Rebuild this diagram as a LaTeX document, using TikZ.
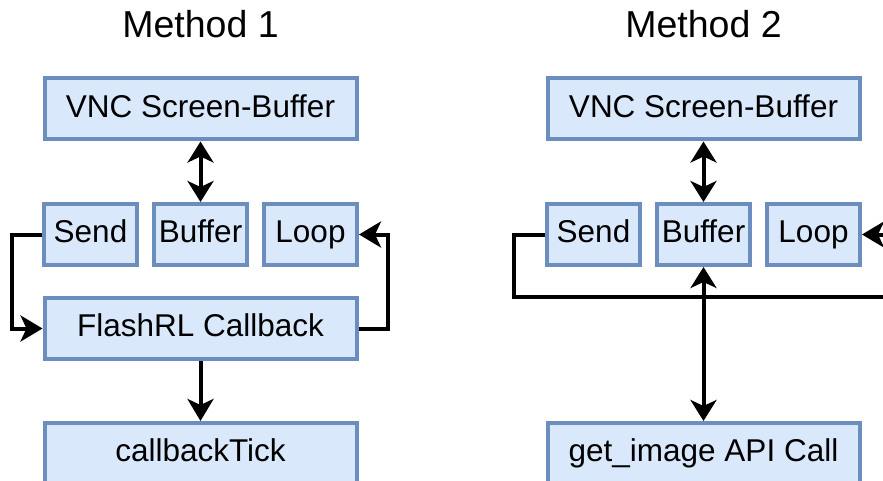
\documentclass[tikz,border=0pt]{standalone}
\usepackage{fontspec}
\setmainfont{Liberation Sans}
\usetikzlibrary{arrows.meta}
\definecolor{boxfill}{HTML}{DAE8FC}
\definecolor{boxline}{HTML}{6C8EBF}
\tikzset{
  box/.style={draw=boxline, fill=boxfill, line width=4pt, inner sep=0pt,
    font=\fontsize{31.5pt}{37pt}\selectfont, text height=22.5pt, text depth=6pt},
  bigbox/.style={box, minimum width=312pt, minimum height=61pt},
  smallbox/.style={box, minimum width=93pt, minimum height=61pt},
  title/.style={font=\fontsize{37.5pt}{44pt}\selectfont, anchor=base, inner sep=0pt},
  conn/.style={line width=4pt},
  tipa/.style={},
  arr/.style={conn, -{Stealth[length=22pt,width=26pt,inset=6pt]}},
  darr/.style={conn, {Stealth[length=21pt,width=26pt,inset=6pt]}-{Stealth[length=21pt,width=26pt,inset=6pt]}}
}
\begin{document}
\begin{tikzpicture}[x=1pt,y=-1pt]
\useasboundingbox (0,0) rectangle (883,481);
\clip (0,0) rectangle (883,481);
\fill[white] (0,0) rectangle (883,481);

% Method 1
\node[title] (t1) at (200.5,38) {Method 1};
\node[bigbox] (vnc1) at (200.5,109) {VNC Screen-Buffer};
\node[smallbox] (send1) at (90.5,234.5) {Send};
\node[smallbox] (buf1) at (200.5,234.5) {Buffer};
\node[smallbox] (loop1) at (310.5,234.5) {Loop};
\node[bigbox] (flash1) at (200.5,328.5) {FlashRL Callback};
\node[bigbox] (tick1) at (200.5,453.5) {callbackTick};

\draw[darr] (vnc1.south) -- (buf1.north);
\draw[arr] (send1.west) -- ++(-30,0) |- (flash1.west);
\draw[arr] (flash1.east) -- ++(29,0) |- (loop1.east);
\draw[arr] (flash1.south) -- (tick1.north);

% Method 2
\node[title] (t2) at (703.5,38) {Method 2};
\node[bigbox] (vnc2) at (703.5,109) {VNC Screen-Buffer};
\node[smallbox] (send2) at (593.5,234.5) {Send};
\node[smallbox] (buf2) at (703.5,234.5) {Buffer};
\node[smallbox] (loop2) at (813.5,234.5) {Loop};
\node[bigbox] (get2) at (703.5,453.5) {get\_image API Call};
\coordinate (r1) at (900,297);
\coordinate (r2) at (900,234.5);

\draw[darr] (vnc2.south) -- (buf2.north);
\draw[conn] (send2.west) -- ++(-31,0) |- (r1);
\draw[arr] (r2) -- (loop2.east);
\draw[darr] (buf2.south) -- (get2.north);
\end{tikzpicture}
\end{document}
